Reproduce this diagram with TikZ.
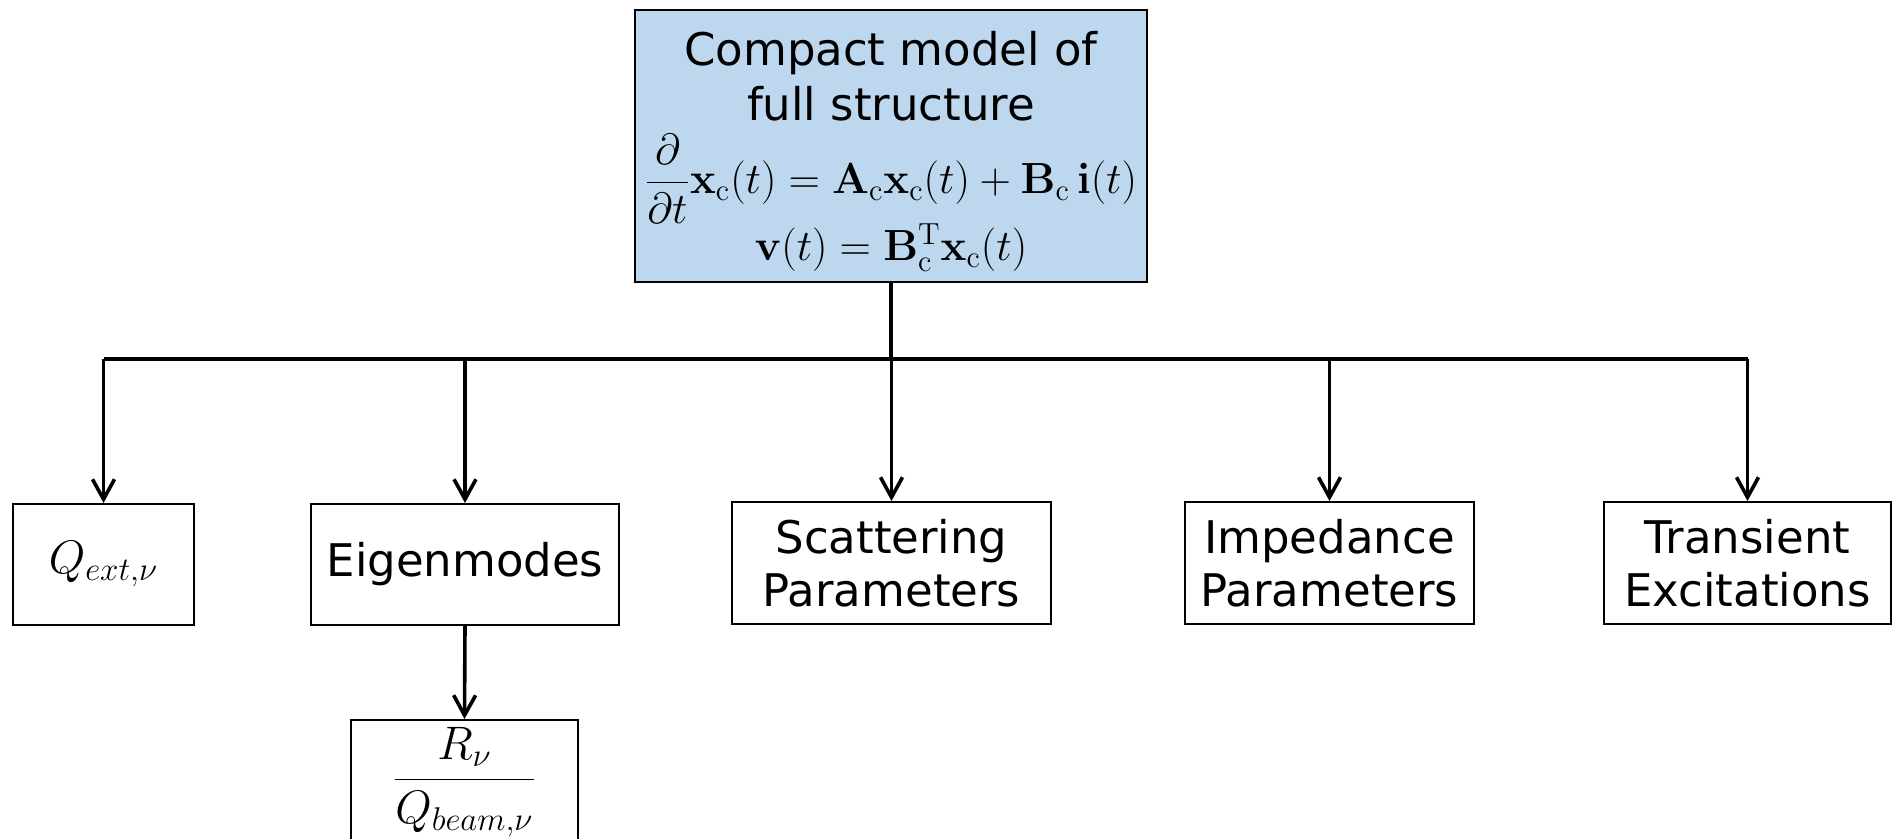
\RequirePackage{fix-cm}
\documentclass[tikz,border=0pt]{standalone}
\usepackage[no-math]{fontspec}
\setmainfont{DejaVu Sans}
\usetikzlibrary{arrows.meta}
\definecolor{modelblue}{RGB}{189,215,238}
\begin{document}
\begin{tikzpicture}[x=.5pt,y=-.5pt,line width=1.8pt,
  box/.style={draw,line width=1pt,inner sep=0pt,align=center,
    font=\fontsize{22.5}{26.5}\selectfont},
  arr/.style={-{Straight Barb[length=10pt,width=11pt]}}]
  \useasboundingbox (0,0) rectangle (1892,839);
  \clip (0,0) rectangle (1892,839);
  \node[box,fill=modelblue,minimum width=256pt,minimum height=136pt,
    font=\fontsize{22.5}{27.5}\selectfont] (cmodel) at (891,146)
    {Compact model of\\full structure\\[9pt]
     \smash{\fontsize{21.8}{24}\selectfont$\displaystyle\frac{\partial}{\partial t}\mathbf{x}_\mathrm{c}(t)=\mathbf{A}_\mathrm{c}\mathbf{x}_\mathrm{c}(t)+\mathbf{B}_\mathrm{c}\,\mathbf{i}(t)$}\\[6pt]
     \smash{\fontsize{21.8}{24}\selectfont$\mathbf{v}(t)=\mathbf{B}_\mathrm{c}^\mathrm{T}\mathbf{x}_\mathrm{c}(t)$}};
  \node[box,minimum width=90.5pt,minimum height=60.5pt,
    font=\fontsize{23.5}{26.5}\selectfont] (qext) at (103.5,564.5)
    {$Q_{ext,\nu}$};
  \node[box,minimum width=154pt,minimum height=60.5pt] (eig) at (465,564.5)
    {Eigenmodes};
  \node[box,minimum width=159.5pt,minimum height=61pt] (scat) at (891.5,563)
    {Scattering\\Parameters};
  \node[box,minimum width=144.5pt,minimum height=61pt] (imp) at (1329.5,563)
    {Impedance\\Parameters};
  \node[box,minimum width=143.5pt,minimum height=61pt] (trans) at (1747.5,563)
    {Transient\\Excitations};
  \node[box,minimum width=113.5pt,minimum height=62pt,
    font=\fontsize{23.5}{26.5}\selectfont] (rq) at (464.5,782)
    {$\displaystyle\frac{R_\nu}{Q_{beam,\nu}}$};
  \coordinate (busl) at (103.5,359);
  \coordinate (busr) at (1747.5,359);
  \draw (cmodel.south) -- (cmodel.south |- busl);
  \draw (busl) -- (busr);
  \foreach \n in {qext,eig,scat,imp,trans}
    \draw[arr] (\n.north |- busl) -- (\n.north);
  \draw[arr] (eig.south) -- (rq.north);
\end{tikzpicture}
\end{document}
